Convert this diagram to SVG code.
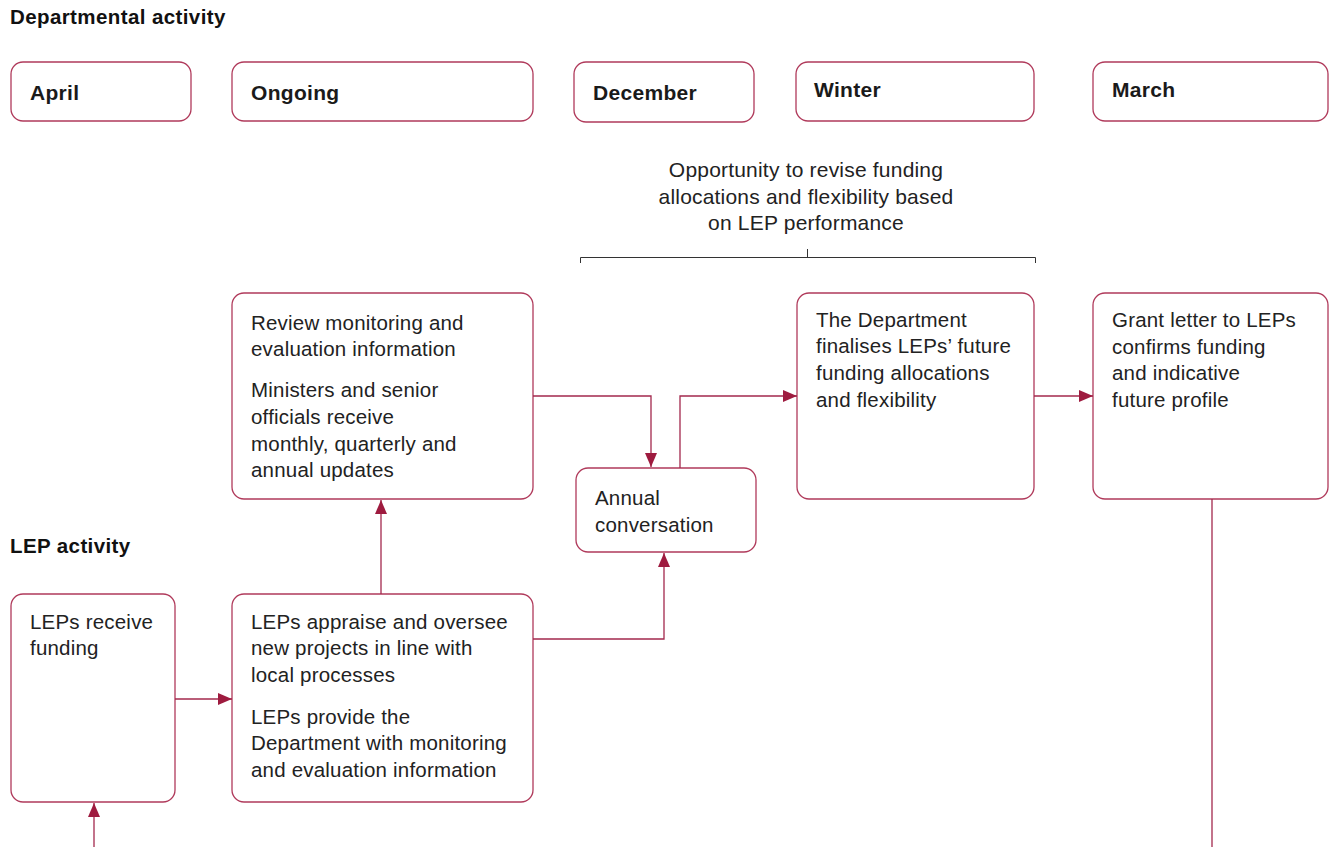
<svg xmlns="http://www.w3.org/2000/svg" width="1332" height="847" viewBox="0 0 1332 847">
<defs>
<style>
.box{fill:#fff;stroke:#B03A5B;stroke-width:1.3}
.hd{font-family:"Liberation Sans",Arial,sans-serif;font-size:21px;font-weight:bold;letter-spacing:0.3px;fill:#1a1a1a}
.tx{font-family:"Liberation Sans",Arial,sans-serif;font-size:20.5px;letter-spacing:0.2px;fill:#222}
.sec{font-family:"Liberation Sans",Arial,sans-serif;font-size:20.5px;font-weight:bold;letter-spacing:0.4px;fill:#111}
.cn{fill:none;stroke:#A3294D;stroke-width:1.3}
.br{fill:none;stroke:#333;stroke-width:1}
</style>
<marker id="ah" viewBox="0 0 14 12" refX="14" refY="6" markerWidth="14" markerHeight="12" markerUnits="userSpaceOnUse" orient="auto">
<path d="M0,0 L14,6 L0,12 Z" fill="#9E1B3F"/>
</marker>
</defs>
<rect width="1332" height="847" fill="#fff"/>
<text class="sec" x="10" y="24">Departmental activity</text>
<text class="sec" x="10" y="553">LEP activity</text>

<g id="h-april"><rect class="box" x="11" y="62" width="180" height="59" rx="12"/><text class="hd" x="30" y="100">April</text></g>
<g id="h-ongoing"><rect class="box" x="232" y="62" width="301" height="59" rx="12"/><text class="hd" x="251" y="100">Ongoing</text></g>
<g id="h-december"><rect class="box" x="574" y="62" width="180" height="60" rx="12"/><text class="hd" x="593" y="100">December</text></g>
<g id="h-winter"><rect class="box" x="796" y="62" width="238" height="59" rx="12"/><text class="hd" x="814" y="97">Winter</text></g>
<g id="h-march"><rect class="box" x="1093" y="62" width="235" height="59" rx="12"/><text class="hd" x="1112" y="97">March</text></g>

<g id="bracket">
<text class="tx" text-anchor="middle" style="font-size:21px" fill="#333"><tspan x="806" y="177">Opportunity to revise funding</tspan><tspan x="806" y="204">allocations and flexibility based</tspan><tspan x="806" y="230">on LEP performance</tspan></text>
<path class="br" d="M580.5,263 V257.5 H1035.5 V263 M807.5,257.5 V249"/>
</g>

<g id="review"><rect class="box" x="232" y="293" width="301" height="206" rx="12"/>
<text class="tx"><tspan x="251" y="330">Review monitoring and</tspan><tspan x="251" y="356">evaluation information</tspan><tspan x="251" y="397">Ministers and senior</tspan><tspan x="251" y="424">officials receive</tspan><tspan x="251" y="451">monthly, quarterly and</tspan><tspan x="251" y="477">annual updates</tspan></text></g>

<g id="finalise"><rect class="box" x="797" y="293" width="237" height="206" rx="12"/>
<text class="tx"><tspan x="816" y="327">The Department</tspan><tspan x="816" y="353">finalises LEPs’ future</tspan><tspan x="816" y="380">funding allocations</tspan><tspan x="816" y="407">and flexibility</tspan></text></g>

<g id="grant"><rect class="box" x="1093" y="293" width="235" height="206" rx="12"/>
<text class="tx"><tspan x="1112" y="327">Grant letter to LEPs</tspan><tspan x="1112" y="354">confirms funding</tspan><tspan x="1112" y="380">and indicative</tspan><tspan x="1112" y="407">future profile</tspan></text></g>

<g id="annual"><rect class="box" x="576" y="468" width="180" height="84" rx="12"/>
<text class="tx"><tspan x="595" y="505">Annual</tspan><tspan x="595" y="532">conversation</tspan></text></g>

<g id="receive"><rect class="box" x="11" y="594" width="164" height="208" rx="12"/>
<text class="tx"><tspan x="30" y="629">LEPs receive</tspan><tspan x="30" y="655">funding</tspan></text></g>

<g id="appraise"><rect class="box" x="232" y="594" width="301" height="208" rx="12"/>
<text class="tx"><tspan x="251" y="629">LEPs appraise and oversee</tspan><tspan x="251" y="655">new projects in line with</tspan><tspan x="251" y="682">local processes</tspan><tspan x="251" y="724">LEPs provide the</tspan><tspan x="251" y="750">Department with monitoring</tspan><tspan x="251" y="777">and evaluation information</tspan></text></g>

<g id="connectors">
<path class="cn" d="M533,396 H651 V467" marker-end="url(#ah)"/>
<path class="cn" d="M680,468 V396 H797" marker-end="url(#ah)"/>
<path class="cn" d="M533,639 H664 V553" marker-end="url(#ah)"/>
<path class="cn" d="M381,594 V500" marker-end="url(#ah)"/>
<path class="cn" d="M175,699 H232" marker-end="url(#ah)"/>
<path class="cn" d="M1034,396 H1093" marker-end="url(#ah)"/>
<path class="cn" d="M1212,499 V847"/>
<path class="cn" d="M94,847 V803" marker-end="url(#ah)"/>
</g>
</svg>
